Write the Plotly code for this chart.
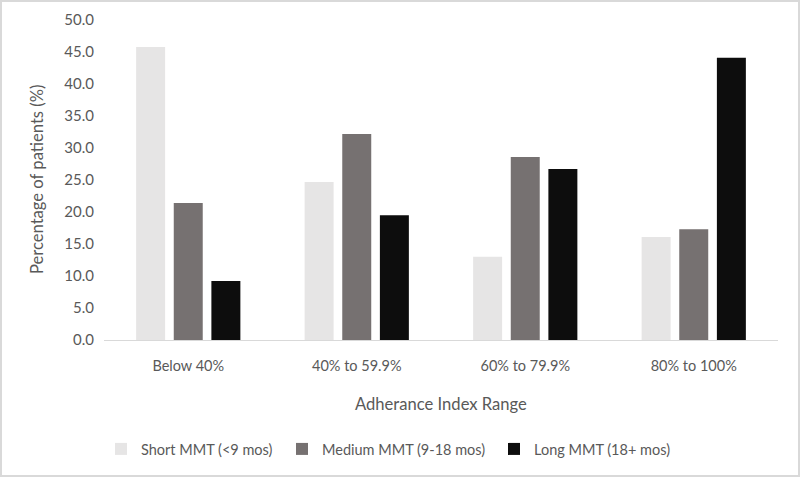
import plotly.graph_objects as go

categories = ["Below 40%", "40% to 59.9%", "60% to 79.9%", "80% to 100%"]
series_names = ["Short MMT (<9 mos)", "Medium MMT (9-18 mos)", "Long MMT (18+ mos)"]
short_vals = [45.8, 24.7, 13.0, 16.1]
medium_vals = [21.4, 32.2, 28.6, 17.3]
long_vals = [9.2, 19.5, 26.7, 44.1]
y_ticks = [0, 5, 10, 15, 20, 25, 30, 35, 40, 45, 50]

colors = ["#E6E5E5", "#767171", "#0D0D0D"]
FONT = "Lato, 'Open Sans', sans-serif"
GRAY = "#595959"
W, H = 800, 477
L, R, T, B = 104, 22, 20, 137
PW, PH = W - L - R, H - T - B

legend_names = ["legend", "legend2", "legend3"]
legend_text_x = [137, 318, 530]

fig = go.Figure()
for name, vals, c, lg in zip(series_names, [short_vals, medium_vals, long_vals], colors, legend_names):
    fig.add_trace(go.Bar(x=categories, y=vals, name=name, marker_color=c,
                         marker_line_width=0, legend=lg))

layout_legends = {}
for lg, tx in zip(legend_names, legend_text_x):
    layout_legends[lg] = dict(orientation="h", xref="container", yref="container",
                              x=(tx - 36) / W, xanchor="left",
                              y=1 - 449 / H, yanchor="middle",
                              font=dict(size=14.5, color=GRAY, family=FONT),
                              bgcolor="rgba(0,0,0,0)")

fig.update_layout(
    width=W, height=H,
    margin=dict(l=L, r=R, t=T, b=B, autoexpand=False),
    paper_bgcolor="white", plot_bgcolor="white",
    barmode="group", bargap=0.33, bargroupgap=0.23,
    font=dict(family=FONT, size=15, color=GRAY),
    showlegend=True,
    xaxis=dict(showgrid=False, showline=True, linecolor="#D9D9D9", linewidth=1,
               ticks="", ticklabelstandoff=13, automargin=False,
               tickfont=dict(size=14.5, color=GRAY)),
    yaxis=dict(range=[0, 50], tickvals=y_ticks, tickformat=".1f", showgrid=False,
               zeroline=False, showline=False, ticks="", ticklabelstandoff=9,
               automargin=False, tickfont=dict(size=15, color=GRAY)),
    annotations=[
        dict(text="Percentage of patients (%)", x=(37 - L) / PW, xref="paper",
             y=0.5, yref="paper", textangle=-90, showarrow=False,
             font=dict(size=16.6, color=GRAY), xanchor="center", yanchor="middle"),
        dict(text="Adherance Index Range", x=(441 - L) / PW, xref="paper",
             y=(T + PH - 404) / PH, yref="paper", showarrow=False,
             font=dict(size=16.6, color=GRAY), xanchor="center", yanchor="middle"),
    ],
    shapes=[dict(type="rect", xref="paper", yref="paper",
                 x0=(1 - L) / PW, x1=(W - 1 - L) / PW,
                 y0=(T + PH - (H - 1)) / PH, y1=(T + PH - 1) / PH,
                 line=dict(color="#D9D9D9", width=2), layer="below")],
    **layout_legends,
)

fig.write_html("out.html", config={"displayModeBar": False},
               post_script="document.body.style.margin='0';")
